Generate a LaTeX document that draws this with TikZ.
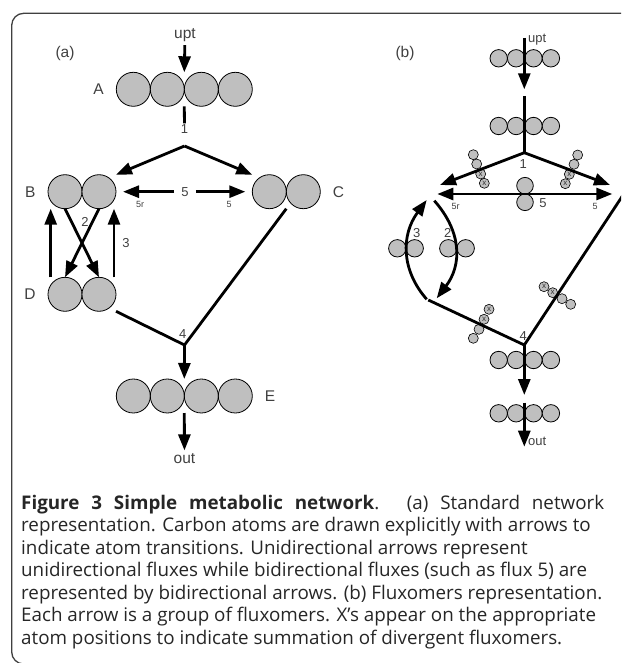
\documentclass[tikz,border=0pt]{standalone}
\usepackage{fontspec}
\setmainfont{Liberation Sans}
\newfontfamily\capfont{Open Sans}
\usetikzlibrary{positioning, arrows.meta, calc}
\newcommand\natspace{\spaceskip=0pt\relax\xspaceskip=0pt\relax}
\tikzstyle{atom} = [circle, draw=black, line width=0.8pt,
fill=gray!50, minimum size=34pt, inner sep=0pt, outer sep=0pt]
\tikzstyle{smallatom} = [atom, minimum size=17.4pt]
\tikzstyle{tinyatom} = [atom, minimum size=10pt, line width=0.6pt]
\tikzstyle{xatom} = [tinyatom, text=black!80,
font=\fontsize{8}{8}\selectfont]
\tikzstyle{lbl} = [text=black!75, font=\fontsize{15.5}{16}\selectfont]
\tikzstyle{flux} = [text=black!75, font=\fontsize{13}{13}\selectfont, inner sep=1pt]
\tikzstyle{fluxsmall} = [text=black!75, font=\fontsize{9}{9}\selectfont, inner sep=1pt]
\tikzstyle{line} = [line width=2.8pt]
\tikzstyle{arrow} = [line, -{Triangle[length=16pt, width=12pt]}]
\tikzstyle{dblarrow} = [line, {Triangle[length=16pt, width=12pt]}-{Triangle[length=16pt, width=12pt]}]

\begin{document}
\begin{tikzpicture}[x=1pt, y=-1pt]
                \useasboundingbox (0,0) rectangle (621,663);
                \clip (0,0) rectangle (621,663);
                \draw [rounded corners=12pt, line width=1.3pt, black!75] (11.7,13.3) rectangle (640,664);

                \node (labA) [lbl] at (65,53) {(a)};
                \node (uptA) [lbl] at (185,35) {upt};
                \node (a1) [atom] at (133.3,89.3) {};
                \node (a2) [atom, right=0pt of a1] {};
                \node (a3) [atom, right=0pt of a2] {};
                \node (a4) [atom, right=0pt of a3] {};
                \node (nameA) [lbl, left=9pt of a1] {A};
                \node (f1) [flux] at (184.5,129) {1};
                \coordinate (j1) at (184.5,146);
                \node (b1) [atom] at (65,191.7) {};
                \node (b2) [atom, right=0pt of b1] {};
                \node (nameB) [lbl, left=9pt of b1] {B};
                \node (c1) [atom] at (269.3,191.7) {};
                \node (c2) [atom, right=0pt of c1] {};
                \node (nameC) [lbl, right=9pt of c2] {C};
                \node (f5) [flux, inner xsep=7pt] at (185,191.7) {5};
                \node (f5r) [fluxsmall] at (140,204) {5r};
                \node (f5f) [fluxsmall] at (229,204) {5};
                \node (f2) [flux] at (85,222) {2};
                \node (f3) [flux] at (126,243) {3};
                \node (d1) [atom] at (65,294.3) {};
                \node (d2) [atom, right=0pt of d1] {};
                \node (nameD) [lbl, left=9pt of d1] {D};
                \node (f4) [flux] at (182.7,334) {4};
                \coordinate (j4) at (184.5,345);
                \node (e1) [atom] at (133.3,396) {};
                \node (e2) [atom, right=0pt of e1] {};
                \node (e3) [atom, right=0pt of e2] {};
                \node (e4) [atom, right=0pt of e3] {};
                \node (nameE) [lbl, right=9pt of e4] {E};
                \node (outA) [lbl] at (184.5,459) {out};

                \node (labB) [lbl] at (405,53) {(b)};
                \node (uptB) [flux, anchor=west] at (527,40) {upt};
                \coordinate (uptBs) at (524.3,38);
                \coordinate (uptBt) at (524.3,89.3);
                \node (ra1) [smallatom] at (498.7,58.3) {};
                \node (ra2) [smallatom, right=0pt of ra1] {};
                \node (ra3) [smallatom, right=0pt of ra2] {};
                \node (ra4) [smallatom, right=0pt of ra3] {};
                \node (rb1) [smallatom] at (498.7,126) {};
                \node (rb2) [smallatom, right=0pt of rb1] {};
                \node (rb3) [smallatom, right=0pt of rb2] {};
                \node (rb4) [smallatom, right=0pt of rb3] {};
                \coordinate (rbs) at (524.3,96);
                \coordinate (j1b) at (524.3,152.7);
                \node (g1) [flux] at (523.3,164) {1};
                \coordinate (bin1) at (440,185);
                \coordinate (cin1) at (610,185);
                \coordinate (bin5) at (437.3,194);
                \coordinate (cin5) at (612.3,194);
                \node (sl1) [tinyatom] at (473.3,154.7) {};
                \node (sl2) [tinyatom] at (476.7,164) {};
                \node (sl3) [xatom] at (480.7,174) {x};
                \node (sl4) [xatom] at (484.3,183.3) {x};
                \node (sr1) [tinyatom] at (577.7,155) {};
                \node (sr2) [tinyatom] at (574,164.3) {};
                \node (sr3) [xatom] at (569.3,174.3) {x};
                \node (sr4) [xatom] at (565.3,183.7) {x};
                \node (m1) [smallatom, minimum size=16.6pt] at (525,185.7) {};
                \node (m2) [smallatom, minimum size=16.6pt, below=0pt of m1] {};
                \node (g5) [flux] at (543,203) {5};
                \node (g5r) [fluxsmall] at (455.7,206) {5r};
                \node (g5f) [fluxsmall] at (595,206) {5};
                \node (p3a) [smallatom] at (397.3,248.3) {};
                \node (p3b) [smallatom, right=0pt of p3a] {};
                \node (p2a) [smallatom] at (448.3,248.3) {};
                \node (p2b) [smallatom, right=0pt of p2a] {};
                \node (g3) [flux] at (416.7,232.7) {3};
                \node (g2) [flux] at (447.7,232.7) {2};
                \coordinate (d3s) at (426.7,299.3);
                \coordinate (b3e) at (426.7,200);
                \coordinate (b2s) at (434.3,200.7);
                \coordinate (d2e) at (436.7,298.3);
                \coordinate (d4s) at (428.3,300);
                \coordinate (j4b) at (524.3,345);
                \coordinate (c4s) at (628,187.5);
                \node (tl1) [xatom] at (489,309.3) {x};
                \node (tl2) [xatom] at (484,319.3) {x};
                \node (tl3) [tinyatom] at (479,329.3) {};
                \node (tl4) [tinyatom] at (473.3,338.3) {};
                \node (tr1) [xatom] at (544,286.7) {x};
                \node (tr2) [xatom] at (552.7,292.7) {x};
                \node (tr3) [tinyatom] at (562,298.7) {};
                \node (tr4) [tinyatom] at (570.7,304.3) {};
                \node (g4) [flux] at (523.3,336) {4};
                \node (rc1) [smallatom] at (498.7,360) {};
                \node (rc2) [smallatom, right=0pt of rc1] {};
                \node (rc3) [smallatom, right=0pt of rc2] {};
                \node (rc4) [smallatom, right=0pt of rc3] {};
                \coordinate (rct) at (524.3,395);
                \node (rd1) [smallatom] at (498.7,413.3) {};
                \node (rd2) [smallatom, right=0pt of rd1] {};
                \node (rd3) [smallatom, right=0pt of rd2] {};
                \node (rd4) [smallatom, right=0pt of rd3] {};
                \coordinate (rds) at (524.3,402.7);
                \coordinate (outBt) at (524.3,446.7);
                \node (outB) [flux, anchor=west] at (527,441) {out};

                \node (caption) [anchor=north west, inner sep=0pt, text width=640pt, align=left,
                text=black!85, font=\capfont\fontsize{18.8}{22.5}\selectfont] at (21,495)
                {\natspace\makebox[583pt][s]{\natspace\textbf{Figure 3 Simple metabolic network}. (a) Standard network}\\
                \natspace representation. Carbon atoms are drawn explicitly with arrows to\\
                \natspace indicate atom transitions. Unidirectional arrows represent\\
                \natspace unidirectional fluxes while bidirectional fluxes (such as flux 5) are\\
                \natspace represented by bidirectional arrows. (b) Fluxomers representation.\\
                \natspace Each arrow is a group of fluxomers. X’s appear on the appropriate\\
                \natspace atom positions to indicate summation of divergent fluxomers.};


                \draw [arrow] (uptA) -- (a2.east |- a2.north);

                \draw [line] (a2.east |- a2.south) -- (f1);

                \draw [arrow] (j1) -- (b2.east |- b2.north);
                \draw [arrow] (j1) -- (c1.west |- c1.north);

                \draw [arrow, shorten >=7pt] (f5.west) -- (b2.east);
                \draw [arrow, shorten >=7pt] (f5.east) -- (c1.west);

                \draw [arrow] ($(d1.north)+(-14.3,0)$) -- ($(b1.south)+(-14.3,0)$);
                \draw [arrow] ($(d2.north)+(15,0)$) -- ($(b2.south)+(15,0)$);

                \draw [arrow] (b1.south) -- (d2.north);
                \draw [arrow] (b2.south) -- (d1.north);

                \draw [line] (d2.east |- d2.south) -- (j4) -- (c1.east |- c1.south);

                \draw [arrow] (j4) -- (e2.east |- e2.north);

                \draw [arrow] (e2.east |- e2.south) -- (outA);

                \draw [arrow] (uptBs) -- (uptBt);

                \draw [line] (rbs) -- (j1b);

                \draw [arrow] (j1b) -- (bin1);
                \draw [arrow] (j1b) -- (cin1);

                \draw [dblarrow] (bin5) -- (cin5);

                \draw [arrow] (d3s) .. controls (401,270) and (401,235) .. (b3e);
                \draw [arrow] (b2s) .. controls (462,232) and (462,265) .. (d2e);

                \draw [line] (d4s) -- (j4b) -- (c4s);

                \draw [arrow] (j4b) -- (rct);

                \draw [arrow] (rds) -- (outBt);
            \end{tikzpicture}
\end{document}
